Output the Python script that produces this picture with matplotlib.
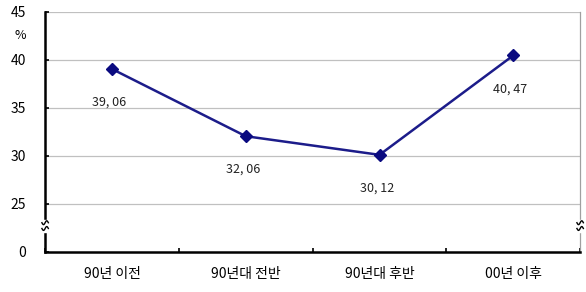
import numpy as np
import matplotlib.pyplot as plt

plt.rcParams['font.family'] = ['Noto Sans CJK KR', 'DejaVu Sans']

categories = ['90년 이전', '90년대 전반', '90년대 후반', '00년 이후']
values = [39.06, 32.06, 30.12, 40.47]
value_labels = ['39, 06', '32, 06', '30, 12', '40, 47']
y_ticks = [20, 25, 30, 35, 40, 45]
y_tick_labels = ['0', '25', '30', '35', '40', '45']

fig = plt.figure(figsize=(5.86, 2.92), dpi=100)
ax = fig.add_axes([0.077, 0.137, 0.913, 0.822])

x = np.arange(len(categories))
ax.plot(x, values, color='#1c1c8a', lw=1.8, marker='D', ms=6.5,
        mfc='#0a0a80', mec='#0a0a80', zorder=3)
for xi, v, lab in zip(x, values, value_labels):
    ax.annotate(lab, (xi, v), xytext=(-2, -24), textcoords='offset points',
                ha='center', va='center', fontsize=9, color='#222222')

ax.set_xlim(-0.5, len(categories) - 0.5)
ax.set_ylim(20, 45)
ax.set_yticks(y_ticks)
ax.set_yticklabels(y_tick_labels)
for t in y_ticks[1:]:
    ax.axhline(t, color='#c0c0c0', lw=0.9, zorder=1)

ax.set_xticks(x)
ax.set_xticklabels(categories)
ax.set_xticks(np.arange(len(categories) + 1) - 0.5, minor=True)
ax.tick_params(axis='x', which='major', length=0, pad=11, labelsize=10)
ax.tick_params(axis='x', which='minor', direction='in', length=3, width=1.2)
ax.tick_params(axis='y', direction='in', length=3, width=1.2, pad=14, labelsize=10)

for s in ['left', 'bottom']:
    ax.spines[s].set_linewidth(1.8)
    ax.spines[s].set_color('black')
ax.spines['top'].set_visible(False)
ax.spines['right'].set_color('#a0a0a0')
ax.spines['right'].set_linewidth(0.9)

ax.text(-0.047, 0.90, '%', transform=ax.transAxes, ha='center', va='center', fontsize=9)

# axis break marks on both sides
tt = np.linspace(-1, 1, 30)
for xa in [0.0, 1.0]:
    ax.add_patch(plt.Rectangle((xa - 0.006, 0.085), 0.012, 0.05, transform=ax.transAxes,
                               color='white', clip_on=False, zorder=5))
    for yb in [0.098, 0.122]:
        ax.plot(xa + 0.006 * tt, yb + 0.008 * np.sin(np.pi * tt), color='black', lw=1.0,
                transform=ax.transAxes, clip_on=False, zorder=6)

fig.savefig('out.png', dpi=100)
